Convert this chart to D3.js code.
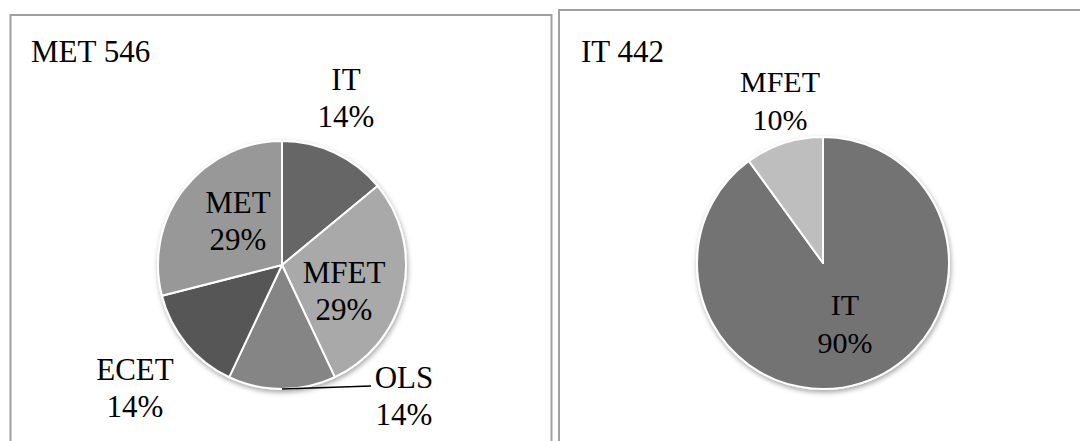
<!DOCTYPE html>
<html>
<head>
<meta charset="utf-8">
<script src="https://cdn.jsdelivr.net/npm/d3@7"></script>
<style>
  html, body { margin: 0; padding: 0; background: #fff; }
  svg { display: block; }
  text { font-family: "Liberation Serif", "Times New Roman", serif; fill: #000; }
</style>
</head>
<body>
<svg id="chart" width="1080" height="441"></svg>
<script>
// Course enrolment by department, two courses
const leftTitle = "MET 546";
const leftCategories = ["IT", "MFET", "OLS", "ECET", "MET"];
const leftValues = [14, 29, 14, 14, 29];
const leftColors = ["#666666", "#a9a9a9", "#858585", "#575757", "#989898"];

const rightTitle = "IT 442";
const rightCategories = ["IT", "MFET"];
const rightValues = [90, 10];
const rightColors = ["#737373", "#bebebe"];

const svg = d3.select("#chart");

const defs = svg.append("defs");
defs.append("filter")
  .attr("id", "pieShadow")
  .attr("x", "-20%").attr("y", "-20%")
  .attr("width", "140%").attr("height", "140%")
  .append("feDropShadow")
  .attr("dx", 1).attr("dy", 2.5)
  .attr("stdDeviation", 2.5)
  .attr("flood-color", "#000")
  .attr("flood-opacity", 0.35);

// panel frames
svg.append("rect")
  .attr("x", 10.5).attr("y", 15)
  .attr("width", 541).attr("height", 460)
  .attr("fill", "none").attr("stroke", "#a0a0a0").attr("stroke-width", 2);
svg.append("rect")
  .attr("x", 559).attr("y", 10)
  .attr("width", 600).attr("height", 460)
  .attr("fill", "none").attr("stroke", "#a0a0a0").attr("stroke-width", 2);

function drawPie(opts) {
  const { cx, cy, r, categories, values, colors, labels, fontSize, lineGap } = opts;
  const data = categories.map((c, i) => ({ name: c, value: values[i], color: colors[i] }));
  const pie = d3.pie().sort(null).value(d => d.value);
  const arcs = pie(data);
  const total = d3.sum(values);
  const arc = d3.arc().innerRadius(0).outerRadius(r);

  const g = svg.append("g").attr("transform", `translate(${cx},${cy})`);
  g.append("g")
    .attr("filter", "url(#pieShadow)")
    .selectAll("path")
    .data(arcs)
    .join("path")
    .attr("d", arc)
    .attr("fill", d => d.data.color)
    .attr("stroke", "#fff")
    .attr("stroke-width", 2)
    .attr("stroke-linejoin", "round");

  arcs.forEach(a => {
    const lab = labels[a.data.name];
    const pct = Math.round(a.data.value / total * 100) + "%";
    const t = svg.append("text")
      .attr("text-anchor", "middle")
      .attr("font-size", fontSize);
    t.append("tspan").attr("x", lab.x).attr("y", lab.y).text(a.data.name);
    t.append("tspan").attr("x", lab.x).attr("y", lab.y + lineGap).text(pct);

    if (lab.leader) {
      // leader from the slice's outer edge midpoint to the label
      const mid = (a.startAngle + a.endAngle) / 2;
      const px = cx + Math.sin(mid) * r;
      const py = cy - Math.cos(mid) * r;
      svg.append("line")
        .attr("x1", px).attr("y1", py)
        .attr("x2", lab.leader.x).attr("y2", lab.leader.y)
        .attr("stroke", "#000").attr("stroke-width", 1.5);
    }
  });
}

// titles
svg.append("text").attr("x", 31).attr("y", 62).attr("font-size", 31).text(leftTitle);
svg.append("text").attr("x", 581).attr("y", 62).attr("font-size", 31).text(rightTitle);

drawPie({
  cx: 282, cy: 265, r: 124,
  categories: leftCategories, values: leftValues, colors: leftColors,
  fontSize: 31, lineGap: 37,
  labels: {
    IT:   { x: 346, y: 90 },
    MFET: { x: 344, y: 283 },
    OLS:  { x: 404, y: 388, leader: { x: 371, y: 386 } },
    ECET: { x: 135, y: 380 },
    MET:  { x: 238, y: 213 }
  }
});

drawPie({
  cx: 823, cy: 263, r: 126,
  categories: rightCategories, values: rightValues, colors: rightColors,
  fontSize: 30, lineGap: 38,
  labels: {
    IT:   { x: 845, y: 315 },
    MFET: { x: 780, y: 92 }
  }
});
</script>
</body>
</html>
